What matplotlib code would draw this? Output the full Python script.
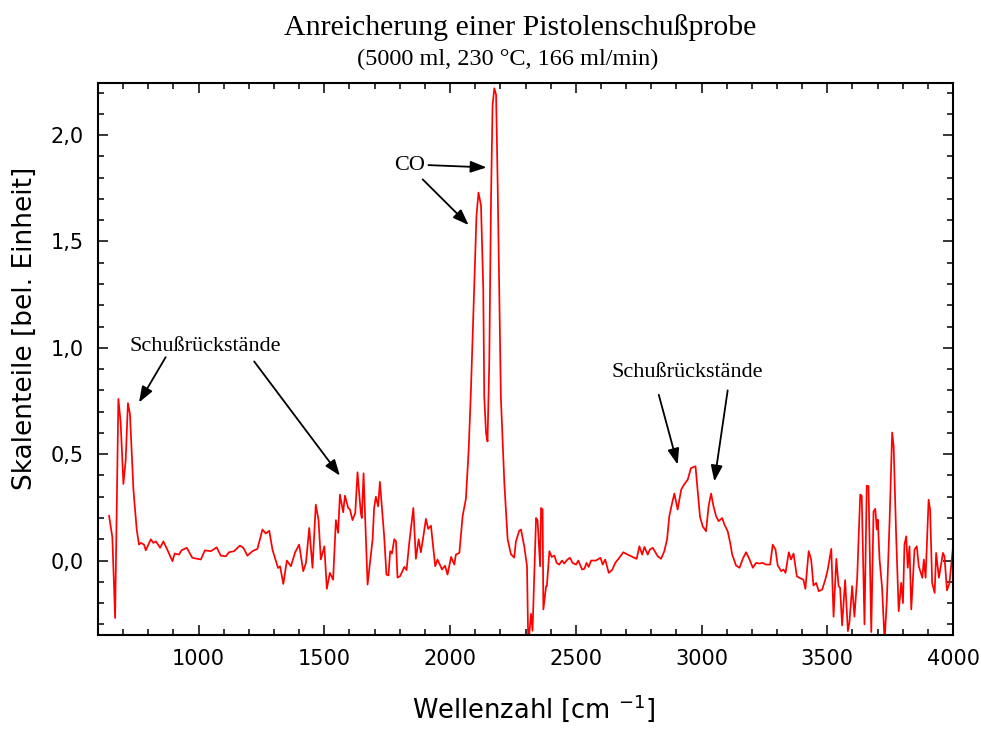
import matplotlib
matplotlib.use("Agg")
import matplotlib.pyplot as plt
from matplotlib.ticker import MultipleLocator, FuncFormatter

# Spektrum: Wellenzahl [cm-1] und Skalenteile
wellenzahl = [
    644, 657, 668, 681, 690, 701, 710, 719, 727, 741, 754, 763, 770, 783, 790,
    810, 820, 830, 839, 847, 860, 876, 896, 905, 922, 932, 953, 975, 1009, 1025,
    1049, 1072, 1088, 1108, 1121, 1141, 1164, 1178, 1194, 1214, 1234, 1254, 1267,
    1281, 1294, 1316, 1324, 1337, 1351, 1367, 1384, 1400, 1416, 1427, 1440, 1453,
    1466, 1477, 1486, 1500, 1510, 1522, 1535, 1546, 1555, 1562, 1575, 1582, 1595,
    1602, 1612, 1623, 1632, 1645, 1649, 1656, 1672, 1692, 1698, 1705, 1714, 1721,
    1738, 1747, 1755, 1762, 1769, 1778, 1785, 1791, 1801, 1818, 1827, 1838, 1854,
    1864, 1875, 1884, 1893, 1904, 1913, 1924, 1941, 1950, 1968, 1980, 1990, 2004,
    2017, 2023, 2037, 2050, 2063, 2074, 2083, 2096, 2105, 2113, 2123, 2132, 2136,
    2143, 2149, 2156, 2163, 2169, 2176, 2183, 2189, 2202, 2216, 2229, 2242, 2255,
    2262, 2275, 2282, 2295, 2306, 2311, 2322, 2328, 2342, 2348, 2358, 2362, 2368,
    2371, 2382, 2385, 2395, 2404, 2415, 2424, 2434, 2445, 2454, 2467, 2477, 2487,
    2501, 2510, 2525, 2534, 2543, 2551, 2561, 2580, 2598, 2607, 2617, 2631, 2644,
    2657, 2673, 2689, 2706, 2726, 2742, 2753, 2764, 2773, 2786, 2795, 2806, 2826,
    2839, 2852, 2863, 2872, 2883, 2892, 2905, 2919, 2932, 2945, 2958, 2976, 2985,
    2994, 3005, 3018, 3028, 3038, 3047, 3058, 3068, 3082, 3091, 3104, 3114, 3122,
    3137, 3151, 3164, 3177, 3190, 3204, 3217, 3230, 3243, 3257, 3273, 3283, 3294,
    3303, 3317, 3326, 3334, 3347, 3356, 3366, 3379, 3389, 3405, 3413, 3426, 3436,
    3445, 3456, 3466, 3480, 3493, 3502, 3516, 3525, 3536, 3545, 3551, 3559, 3571,
    3582, 3588, 3599, 3608, 3619, 3631, 3637, 3648, 3657, 3664, 3675, 3684, 3691,
    3697, 3701, 3708, 3718, 3728, 3737, 3748, 3758, 3764, 3774, 3784, 3794, 3801,
    3807, 3814, 3820, 3827, 3834, 3847, 3856, 3864, 3878, 3884, 3891, 3903, 3909,
    3917, 3927, 3933, 3944, 3960, 3966, 3976, 3986, 4000,
]
skalenteile = [
    0.21, 0.11, -0.27, 0.76, 0.65, 0.36, 0.47, 0.74, 0.69, 0.33, 0.145, 0.075,
    0.083, 0.075, 0.048, 0.10, 0.083, 0.09, 0.075, 0.06, 0.09, 0.05, -0.003,
    0.033, 0.028, 0.048, 0.06, 0.013, 0.005, 0.048, 0.044, 0.062, 0.023, 0.02,
    0.039, 0.044, 0.07, 0.06, 0.023, 0.044, 0.055, 0.146, 0.127, 0.14, 0.05,
    -0.035, -0.027, -0.11, 0.0, -0.027, 0.039, 0.075, -0.05, -0.011, 0.153,
    -0.034, 0.263, 0.19, 0.005, 0.067, -0.133, -0.058, -0.09, 0.19, 0.13, 0.31,
    0.227, 0.305, 0.247, 0.24, 0.19, 0.224, 0.415, 0.224, 0.20, 0.41, -0.113,
    0.10, 0.247, 0.30, 0.255, 0.37, 0.114, -0.066, -0.07, 0.044, 0.033, 0.10,
    0.09, -0.08, -0.074, -0.03, -0.045, 0.086, 0.247, 0.008, 0.10, 0.039, 0.107,
    0.196, 0.149, 0.164, -0.027, 0.005, -0.042, -0.024, -0.066, 0.017, -0.019,
    0.028, 0.036, 0.21, 0.29, 0.52, 0.80, 1.28, 1.62, 1.73, 1.67, 1.28, 0.77,
    0.60, 0.56, 0.94, 1.71, 2.14, 2.22, 2.19, 1.79, 0.77, 0.36, 0.10, 0.03,
    0.014, 0.09, 0.14, 0.146, 0.067, -0.027, -0.40, -0.25, -0.33, 0.20, 0.19,
    -0.027, 0.247, 0.24, -0.23, -0.12, -0.12, 0.044, 0.017, 0.023, -0.011,
    -0.019, 0.0, -0.014, 0.005, 0.013, -0.011, -0.019, 0.0, -0.042, -0.039,
    -0.011, -0.03, 0.0, 0.0, 0.013, -0.019, 0.005, -0.058, -0.045, -0.011,
    0.013, 0.039, 0.028, 0.017, 0.008, 0.067, 0.028, 0.064, 0.028, 0.052, 0.06,
    0.02, 0.008, 0.044, 0.10, 0.21, 0.27, 0.315, 0.24, 0.333, 0.36, 0.38, 0.435,
    0.443, 0.325, 0.205, 0.16, 0.138, 0.255, 0.315, 0.258, 0.208, 0.185, 0.20,
    0.169, 0.138, 0.083, 0.028, -0.023, -0.034, 0.008, 0.039, 0.008, -0.034,
    -0.011, -0.014, -0.011, -0.019, -0.019, 0.075, 0.052, -0.023, -0.05,
    -0.042, -0.058, 0.039, 0.005, 0.033, -0.074, -0.081, -0.09, -0.133, 0.044,
    0.005, -0.117, -0.105, -0.144, -0.136, -0.086, -0.042, 0.055, -0.264, 0.008,
    -0.12, -0.128, -0.305, -0.092, -0.332, -0.293, -0.12, -0.264, -0.081, 0.31,
    0.305, -0.30, 0.352, 0.35, -0.336, 0.231, 0.243, 0.146, 0.192, 0.005,
    -0.128, -0.38, -0.183, 0.192, 0.602, 0.537, 0.114, -0.238, -0.105, -0.20,
    0.075, 0.114, -0.034, 0.067, -0.23, 0.052, 0.067, -0.027, -0.081, 0.005,
    -0.081, 0.286, 0.24, -0.105, -0.152, 0.036, -0.081, 0.036, 0.02, -0.14,
    -0.105, 0.064,
]

serif = "Liberation Serif"
sans = "DejaVu Sans"
plt.rcParams["mathtext.default"] = "regular"

fig = plt.figure(figsize=(9.81, 7.29), dpi=100, facecolor="white")
ax = fig.add_axes([98 / 981, 1 - 635 / 729, 855 / 981, 552 / 729])

ax.plot(wellenzahl, skalenteile, color="#ff0000", linewidth=1.25)

ax.set_xlim(600, 4000)
ax.set_ylim(-0.35, 2.245)
ax.xaxis.set_major_locator(MultipleLocator(500))
ax.xaxis.set_minor_locator(MultipleLocator(100))
ax.yaxis.set_major_locator(MultipleLocator(0.5))
ax.yaxis.set_minor_locator(MultipleLocator(0.1))
ax.yaxis.set_major_formatter(FuncFormatter(lambda v, p: f"{v:.1f}".replace(".", ",")))

for s in ax.spines.values():
    s.set_linewidth(1.5)
ax.tick_params(which="both", direction="in", top=True, right=True, width=1.1, color="black",
               labelsize=15, labelfontfamily=sans)
ax.tick_params(which="major", length=7.5)
ax.tick_params(which="minor", length=4)
ax.tick_params(axis="x", which="major", pad=10)
ax.tick_params(axis="y", which="major", pad=10)

# Titel
fig.text(520 / 981, 1 - 35 / 729, "Anreicherung einer Pistolenschußprobe",
         ha="center", va="baseline", family=serif, fontsize=21.5)
fig.text(508 / 981, 1 - 65 / 729, "(5000 ml, 230 °C, 166 ml/min)",
         ha="center", va="baseline", family=serif, fontsize=17.5)

# Achsenbeschriftungen
fig.text(25 / 981, 1 - 328 / 729, "Skalenteile [bel. Einheit]", rotation=90,
         ha="center", va="center", family=sans, fontsize=19)
fig.text(534 / 981, 1 - 718 / 729, "Wellenzahl [cm $^{-1}$]",
         ha="center", va="baseline", family=sans, fontsize=18.5)

# Anmerkungen mit Pfeilen
pfeil = dict(arrowstyle="-|>,head_length=0.6,head_width=0.22", mutation_scale=16,
             color="black", lw=1.3, shrinkA=0, shrinkB=0)

ax.text(1026, 0.986, "Schußrückstände", ha="center", va="baseline", family=serif, fontsize=16)
ax.annotate("", xy=(763, 0.743), xytext=(869, 0.956), arrowprops=pfeil)
ax.annotate("", xy=(1562, 0.399), xytext=(1221, 0.936), arrowprops=pfeil)

ax.text(1838, 1.836, "CO", ha="center", va="baseline", family=serif, fontsize=16)
ax.annotate("", xy=(2145, 1.848), xytext=(1914, 1.859), arrowprops=pfeil)
ax.annotate("", xy=(2074, 1.577), xytext=(1891, 1.792), arrowprops=pfeil)

ax.text(2942, 0.865, "Schußrückstände", ha="center", va="baseline", family=serif, fontsize=16)
ax.annotate("", xy=(2905, 0.451), xytext=(2830, 0.779), arrowprops=pfeil)
ax.annotate("", xy=(3051, 0.372), xytext=(3104, 0.80), arrowprops=pfeil)

fig.savefig("out.png", dpi=100, facecolor="white")
